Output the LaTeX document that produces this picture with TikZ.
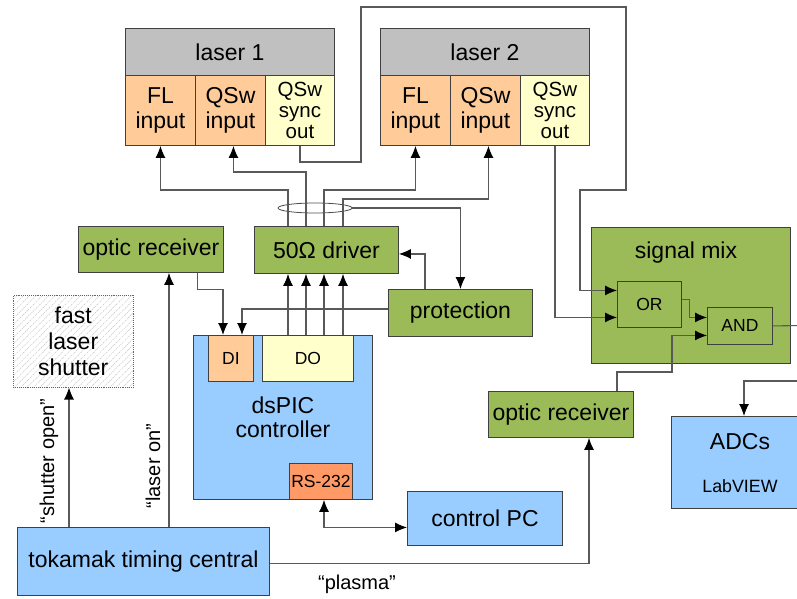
\documentclass[tikz,border=0pt]{standalone}
\usepackage{fontspec}
\setmainfont{Liberation Sans}
\usetikzlibrary{arrows.meta, patterns.meta, shapes.geometric}

\definecolor{mixgreen}{HTML}{9BBB59}
\definecolor{ctrlblue}{HTML}{99CCFF}
\definecolor{inpeach}{HTML}{FFCC99}
\definecolor{outyellow}{HTML}{FFFFCC}
\definecolor{headgray}{HTML}{C0C0C0}
\definecolor{rsorange}{HTML}{FF9966}

\begin{document}
\begin{tikzpicture}[
    x=1pt, y=-1pt,
    every node/.style={font=\fontsize{23}{25.5}\selectfont},
    blk/.style={draw=black!75, line width=0.9pt, anchor=north west, inner sep=0pt, align=center},
    small/.style={font=\fontsize{17.5}{20}\selectfont},
    quote/.style={font=\fontsize{20}{22}\selectfont},
    wire/.style={draw=black!65, line width=1.1pt},
    arr/.style={wire, -{Latex[length=12pt, width=10pt, black]}},
    darr/.style={wire, {Latex[length=12pt, width=10pt, black]}-{Latex[length=12pt, width=10pt, black]}},
]

\useasboundingbox (0,0) rectangle (797,599);

% === Laser 1 ===
\node[blk, fill=headgray, minimum width=209pt, minimum height=47pt] (laserA) at (125,28) {laser 1};
\node[blk, fill=inpeach, minimum width=70pt, minimum height=70pt] (flA) at (125,75) {FL\\input};
\node[blk, fill=inpeach, minimum width=70pt, minimum height=70pt] (qswA) at (195,75) {QSw\\input};
\node[blk, fill=outyellow, minimum width=69pt, minimum height=70pt, font=\fontsize{20.5}{21}\selectfont] (syncA) at (265,75) {QSw\\sync\\out};

% === Laser 2 ===
\node[blk, fill=headgray, minimum width=209pt, minimum height=47pt] (laserB) at (380,28) {laser 2};
\node[blk, fill=inpeach, minimum width=70pt, minimum height=70pt] (flB) at (380,75) {FL\\input};
\node[blk, fill=inpeach, minimum width=70pt, minimum height=70pt] (qswB) at (450,75) {QSw\\input};
\node[blk, fill=outyellow, minimum width=69pt, minimum height=70pt, font=\fontsize{20.5}{21}\selectfont] (syncB) at (520,75) {QSw\\sync\\out};

% === Driver side ===
\node[blk, fill=mixgreen, minimum width=145pt, minimum height=46pt] (optA) at (78,226) {optic receiver};
\node[blk, fill=mixgreen, minimum width=144pt, minimum height=47pt] (driver) at (254,226) {50Ω driver};
\node[blk, fill=mixgreen, minimum width=144pt, minimum height=47pt] (prot) at (388,289) {protection};
\node[ellipse, draw=black!70, line width=0.8pt, minimum width=74pt, minimum height=10pt, inner sep=0pt] (bundle) at (315,208) {};

% === Controller ===
\node[blk, fill=ctrlblue, minimum width=179pt, minimum height=164pt, font=\fontsize{23}{24}\selectfont] (dsp) at (193,335) {dsPIC\\controller};
\node[blk, fill=inpeach, minimum width=45pt, minimum height=46pt, small] (di) at (208,335) {DI};
\node[blk, fill=outyellow, minimum width=91pt, minimum height=46pt, small] (dout) at (262,335) {DO};
\node[blk, fill=rsorange, minimum width=63pt, minimum height=36pt, small] (rs) at (289,463) {RS-232};
\node[blk, fill=ctrlblue, minimum width=155pt, minimum height=54pt] (pc) at (407,491) {control PC};

% === Timing ===
\node[blk, draw=black!60, densely dotted, pattern={Lines[angle=45, distance=4.5pt, line width=0.5pt]}, pattern color=black!25, minimum width=120pt, minimum height=92pt, font=\fontsize{23}{26}\selectfont] (shutter) at (13,295) {fast\\laser\\shutter};
\node[blk, fill=ctrlblue, minimum width=252pt, minimum height=68pt] (tok) at (17,527) {tokamak timing central};
\node[blk, fill=mixgreen, minimum width=145pt, minimum height=46pt] (optB) at (488,391) {optic receiver};

% === Signal mix ===
\node[blk, fill=mixgreen, minimum width=199pt, minimum height=136pt] (mix) at (591,227) {};
\node (mixT) at (686,253) {signal mix};
\node[blk, fill=mixgreen, minimum width=64pt, minimum height=46pt, small] (orgate) at (617,281) {OR};
\node[blk, fill=mixgreen, minimum width=65pt, minimum height=37pt, small] (andg) at (707,307) {AND};

% === ADCs ===
\node[blk, fill=ctrlblue, minimum width=138pt, minimum height=92pt] (adc) at (671,416) {};
\node (adcT) at (740,442) {ADCs};
\node[font=\fontsize{17.8}{20}\selectfont] (adcL) at (740,486) {LabVIEW};
\coordinate (mixOut) at (800,325.5);
\coordinate (adcIn) at (800,381);

% === Connections to lasers ===
\draw[arr] ([xshift=34pt]driver.north west) -- ++(0,-36) -| (flA.south);
\draw[arr] ([xshift=52pt]driver.north west) -- ++(0,-54) -| ([xshift=3pt]qswA.south);
\draw[arr] ([xshift=70pt]driver.north west) -- ++(0,-36) -| (flB.south);
\draw[arr] ([xshift=89pt]driver.north west) -- ++(0,-27) -| ([xshift=3pt]qswB.south);
\draw[arr] (bundle.east) -| (prot.north);

% DO lines into driver
\foreach \dx in {34,52,70,89}
    \draw[arr] ([xshift=\dx pt]driver.south west |- dout.north) -- ([xshift=\dx pt]driver.south west);

\draw[arr] ([xshift=37pt]prot.north west) |- ([yshift=-4pt]driver.east);
\draw[arr] ([yshift=4pt]prot.west) -| ([xshift=34pt]di.north west);
\draw[arr] ([xshift=-26pt]optA.south east) -- ++(0,17) -| ([xshift=15pt]di.north west);
\draw[darr] ([xshift=35pt]rs.south west) |- ([yshift=-9pt]pc.west);

% === Sync outputs to OR ===
\draw[arr] (syncA.south) |- (361,162) |- (626,7) |- (580,190) |- ([yshift=14pt]orgate.west);
\draw[arr] (syncB.south) |- ([yshift=-13pt]orgate.west);
\draw[arr] ([yshift=5pt]orgate.east) -- ++(8,0) |- ([yshift=8.5pt]andg.west);
\draw[arr] ([xshift=129pt]optB.north west) |- (672,372) |- ([yshift=-9.5pt]andg.west);
\draw[wire] (andg.east) -- (mixOut);
\draw[arr] (adcIn) -| ([xshift=73pt]adc.north west);

% === Timing signals ===
\draw[arr] ([xshift=52pt]tok.north west) -- ([xshift=52pt]tok.north west |- shutter.south);
\draw[arr] ([xshift=152pt]tok.north west) -- ([xshift=152pt]tok.north west |- optA.south);
\draw[arr] ([yshift=-2pt]tok.east) -| ([xshift=101pt]optB.south west);
\node[quote, rotate=90] (shutLbl) at (49,461) {“shutter open”};
\node[quote, rotate=90] (onLbl) at (153,466) {“laser on”};
\node[quote] (plasmaLbl) at (357,584) {“plasma”};

\end{tikzpicture}
\end{document}
